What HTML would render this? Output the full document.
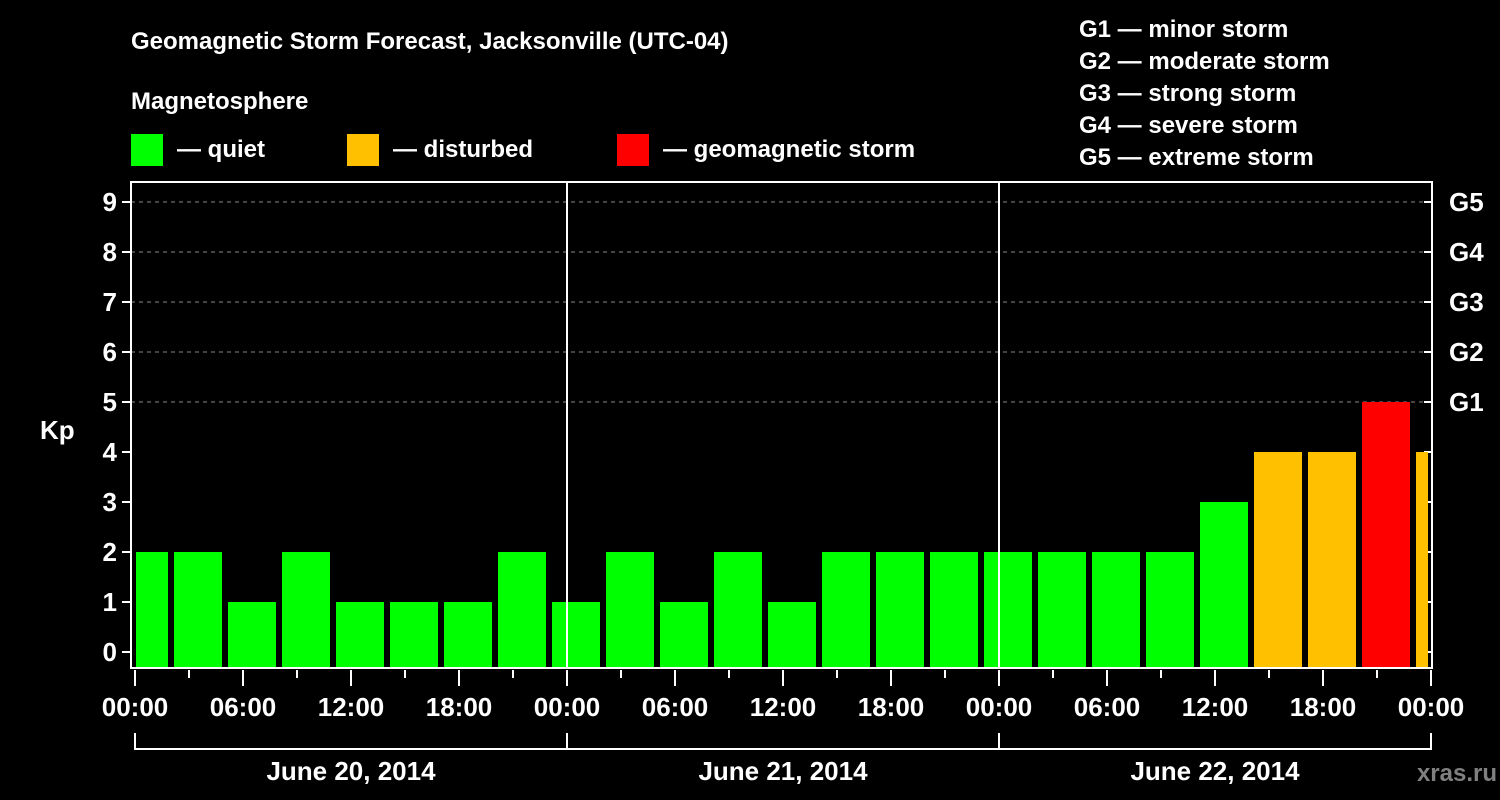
<!DOCTYPE html>
<html><head><meta charset="utf-8"><style>
body{margin:0;background:#000;width:1500px;height:800px;overflow:hidden}
svg{display:block;font-family:"Liberation Sans",Arial,sans-serif;font-weight:bold}
</style></head><body>
<svg id="c" width="1500" height="800" viewBox="0 0 1500 800">
<rect width="1500" height="800" fill="#000"/>
<text x="131" y="49" fill="#fff" font-size="24">Geomagnetic Storm Forecast, Jacksonville (UTC-04)</text>
<text x="131" y="109" fill="#fff" font-size="24">Magnetosphere</text>
<g><rect x="131" y="134" width="32" height="32" fill="#00ff00"/><text x="177" y="157" fill="#fff" font-size="24">— quiet</text></g>
<g><rect x="347" y="134" width="32" height="32" fill="#ffc000"/><text x="393" y="157" fill="#fff" font-size="24">— disturbed</text></g>
<g><rect x="617" y="134" width="32" height="32" fill="#ff0000"/><text x="663" y="157" fill="#fff" font-size="24">— geomagnetic storm</text></g>
<g fill="#fff" font-size="24">
<text x="1079" y="37">G1 — minor storm</text><text x="1079" y="69">G2 — moderate storm</text><text x="1079" y="101">G3 — strong storm</text><text x="1079" y="133">G4 — severe storm</text><text x="1079" y="165">G5 — extreme storm</text>
</g>
<text x="40" y="439" fill="#fff" font-size="26">Kp</text>
<text x="1497" y="781" fill="#808080" font-size="24" text-anchor="end">xras.ru</text>
<g id="plot"></g>
</svg>
<script>
const kpValues=[2,2,1,2,1,1,1,2,1,2,1,2,1,2,2,2,2,2,2,2,3,4,4,5,4];
const yTicks=[0,1,2,3,4,5,6,7,8,9];
const gLabels=["G1","G2","G3","G4","G5"];
const hourLabels=["00:00","06:00","12:00","18:00"];
const dayLabels=["June 20, 2014","June 21, 2014","June 22, 2014"];
const ns="http://www.w3.org/2000/svg";
const P=document.getElementById('plot');
const L=131,R=1432,T=182,B=668,X0=135,DAY=432;
const y=v=>652-50*v;
const x=h=>X0+h*DAY/24;
function mk(t,a,parent){const e=document.createElementNS(ns,t);for(const k in a)e.setAttribute(k,a[k]);(parent||P).appendChild(e);return e;}
// grid
yTicks.forEach(v=>{
 if(v>=5){const g=mk('line',{x1:L,x2:R,y1:y(v),y2:y(v),stroke:'#888','stroke-dasharray':'4,4','stroke-width':1});
 
 }
 const t=mk('line',{x1:L-9,x2:L,y1:y(v),y2:y(v),stroke:'#fff','stroke-width':2});
 
 
 const t2=mk('line',{x1:R,x2:R-8,y1:y(v),y2:y(v),stroke:'#fff','stroke-width':2});
 
 
 const lb=mk('text',{x:L-14,y:y(v)+9,fill:'#fff','font-size':26,'text-anchor':'end'});lb.textContent=v;
 
 
});
gLabels.forEach((g,i)=>{const t=mk('text',{x:R+17,y:y(5+i)+9,fill:'#fff','font-size':26});t.textContent=g;
 
 });
// bars
const cp=mk('clipPath',{id:'clip'});mk('rect',{x:136,y:T,width:1292,height:B-T},cp);
const bg=mk('g',{'clip-path':'url(#clip)'});
kpValues.forEach((v,k)=>{
 const h0=3*k-1;
 const col=v>=5?'#ff0000':v>=4?'#ffc000':'#00ff00';
 const r=mk('rect',{x:x(h0)+3,y:y(v),width:48,height:B-y(v),fill:col},bg);
 
 
});
// day separators
[1,2].forEach(d=>{const l=mk('line',{x1:x(24*d),x2:x(24*d),y1:T,y2:B,stroke:'#fff','stroke-width':2});
 
 });
const fr=mk('rect',{x:L,y:T,width:R-L,height:B-T,fill:'none',stroke:'#fff','stroke-width':2});


// x ticks
for(let h=0;h<=72;h+=3){
 const major=h%6===0;
 const t=mk('line',{x1:x(h),x2:x(h),y1:B+2,y2:B+(major?18:10),stroke:'#fff','stroke-width':2});
 
 
 if(major){const lb=mk('text',{x:x(h),y:716,fill:'#fff','font-size':26,'text-anchor':'middle'});lb.textContent=hourLabels[(h/6)%4];
 
 }
}
dayLabels.forEach((d,i)=>{
 const pth=mk('path',{d:`M${x(24*i)} 733V749H${x(24*i+24)}V733`,fill:'none',stroke:'#fff','stroke-width':2});
 
 
 const t=mk('text',{x:x(24*i+12),y:780,fill:'#fff','font-size':26,'text-anchor':'middle'});t.textContent=d;
 
 
});
</script>
</body></html>
